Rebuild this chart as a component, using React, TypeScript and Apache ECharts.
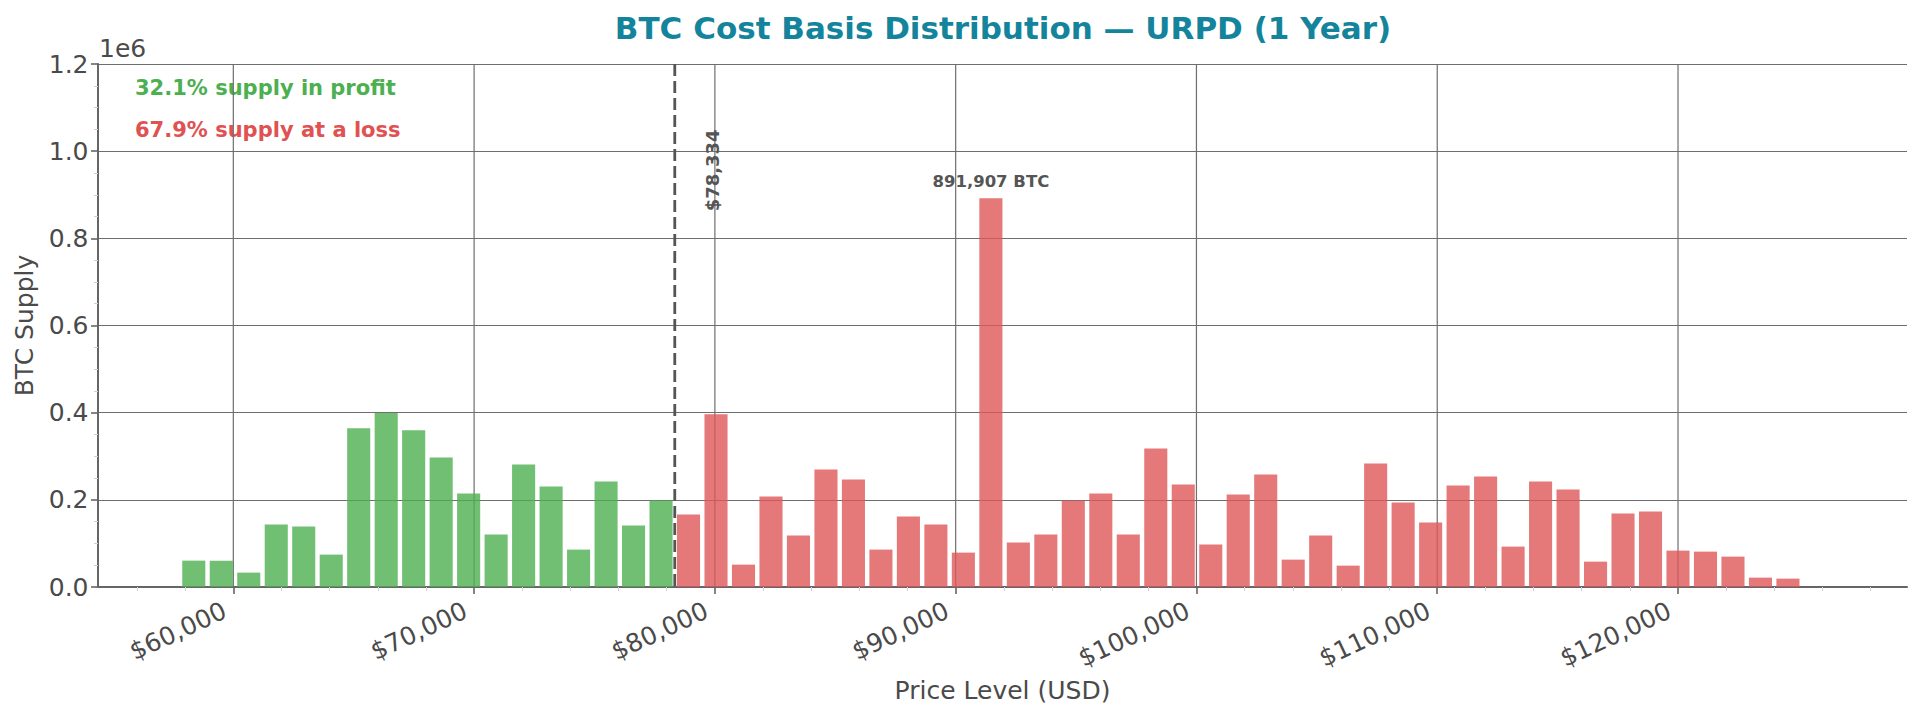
import React, { useEffect, useRef } from 'react';
import * as echarts from 'echarts';

// bin centres (USD) and supply per bin (BTC)
const priceLevels = [
  58358, 59500, 60641, 61783, 62924, 64066, 65207, 66349, 67490, 68632,
  69773, 70915, 72056, 73198, 74339, 75481, 76622, 77764, 78905, 80047,
  81188, 82330, 83471, 84613, 85754, 86896, 88037, 89179, 90320, 91462,
  92603, 93745, 94886, 96028, 97169, 98311, 99452, 100594, 101735, 102877,
  104018, 105160, 106301, 107443, 108584, 109726, 110867, 112009, 113150, 114292,
  115433, 116575, 117716, 118858, 119999, 121141, 122282, 123424, 124565,
];
const supply = [
  60500, 60500, 33000, 143300, 138700, 74300, 364000, 399000, 359400, 297300,
  214600, 120300, 281200, 230700, 85800, 242100, 141000, 198500, 166300, 396200,
  51300, 207700, 118000, 269700, 246700, 85800, 161700, 143300, 78900, 891907,
  101900, 120300, 198500, 214600, 120300, 318000, 235200, 97300, 212300, 258200,
  62800, 118000, 49000, 283500, 193900, 147900, 233000, 253600, 92700, 242100,
  223800, 58200, 168600, 173200, 83500, 81200, 69700, 21500, 19200,
];
const binWidth = 1141.5;
const currentPrice = 78334;
const majorTicks = [60000, 70000, 80000, 90000, 100000, 110000, 120000];
const minorTicks = [
  56000, 58000, 62000, 64000, 66000, 68000, 72000, 74000, 76000, 78000,
  82000, 84000, 86000, 88000, 92000, 94000, 96000, 98000, 102000, 104000,
  106000, 108000, 112000, 114000, 116000, 118000, 122000, 124000, 126000, 128000,
];
const xMin = 54380;
const xMax = 129510;
const yMax = 1200000;
const titleText = 'BTC Cost Basis Distribution — URPD (1 Year)';
const profitText = '32.1% supply in profit';
const lossText = '67.9% supply at a loss';

const FONT = '"DejaVu Sans", sans-serif';
const GREEN = 'rgba(76, 175, 80, 0.8)';
const RED = 'rgba(222, 88, 88, 0.8)';
const GRID = '#6e6e6e';
const AXIS = '#666';
const MINOR = '#cdd0dc';
const TEXT = '#4a4a4a';

const App: React.FC = () => {
  const chartRef = useRef<HTMLDivElement>(null);

  useEffect(() => {
    if (!chartRef.current) return;
    document.body.style.margin = '0';
    document.body.style.overflow = 'hidden';
    const chart = echarts.init(chartRef.current, null, { renderer: 'svg' });

    const maxIndex = supply.indexOf(Math.max(...supply));
    const barData = priceLevels.map((p, i) => [p, supply[i]]);

    const option = {
      animation: false,
      grid: { left: 98, right: 16, top: 64, bottom: 132, containLabel: false },
      xAxis: [
        {
          type: 'value',
          min: xMin,
          max: xMax,
          name: 'Price Level (USD)',
          nameLocation: 'middle',
          nameGap: 91,
          nameTextStyle: { fontSize: 25, color: TEXT, fontFamily: FONT },
          axisLine: { show: true, onZero: false, lineStyle: { color: AXIS, width: 2 } },
          axisTick: { show: true, customValues: majorTicks, length: 7, lineStyle: { color: AXIS, width: 1.6 } },
          axisLabel: {
            customValues: majorTicks,
            rotate: 25,
            align: 'right',
            verticalAlign: 'bottom',
            padding: [0, 3.5, 0, 0],
            margin: 32,
            fontSize: 25,
            color: TEXT,
            fontFamily: FONT,
            formatter: (v: number) => '$' + v.toLocaleString('en-US'),
          },
          splitLine: { show: false },
        },
        {
          type: 'value',
          min: xMin,
          max: xMax,
          position: 'bottom',
          axisLine: { show: false },
          axisTick: { show: true, customValues: minorTicks, length: 4, lineStyle: { color: MINOR, width: 1 } },
          axisLabel: { show: false },
          splitLine: { show: false },
        },
      ],
      yAxis: {
        type: 'value',
        min: 0,
        max: yMax,
        interval: 200000,
        name: 'BTC Supply',
        nameLocation: 'middle',
        nameGap: 61,
        nameTextStyle: { fontSize: 25, color: TEXT, fontFamily: FONT },
        axisLine: { show: true, onZero: false, lineStyle: { color: AXIS, width: 2 } },
        axisTick: { show: true, length: 7, lineStyle: { color: AXIS, width: 1.6 } },
        minorTick: { show: true, splitNumber: 4, length: 4, lineStyle: { color: MINOR, width: 1 } },
        axisLabel: {
          margin: 9.5,
          fontSize: 25,
          color: TEXT,
          fontFamily: FONT,
          formatter: (v: number) => (v / 1e6).toFixed(1),
        },
        splitLine: { show: true, lineStyle: { color: GRID, width: 1.2 } },
      },
      series: [
        {
          // vertical grid lines at the major ticks
          type: 'custom',
          z: 1,
          silent: true,
          data: majorTicks.map((v) => [v, 0]),
          encode: { x: 0, y: 1 },
          renderItem: (_params: any, api: any) => {
            const v = api.value(0);
            const top = api.coord([v, yMax]);
            const bottom = api.coord([v, 0]);
            return {
              type: 'line',
              shape: { x1: top[0], y1: top[1], x2: bottom[0], y2: bottom[1] },
              style: { stroke: GRID, lineWidth: 1.2 },
            };
          },
        },
        {
          name: 'Supply',
          type: 'custom',
          z: 2,
          data: barData,
          encode: { x: 0, y: 1 },
          renderItem: (params: any, api: any) => {
            const price = api.value(0);
            const value = api.value(1);
            const p0 = api.coord([price - binWidth * 0.42, value]);
            const p1 = api.coord([price + binWidth * 0.42, 0]);
            const rect = {
              type: 'rect',
              shape: { x: p0[0], y: p0[1], width: p1[0] - p0[0], height: p1[1] - p0[1] },
              style: { fill: price < currentPrice ? GREEN : RED },
            };
            if (params.dataIndex !== maxIndex) return rect;
            const c = api.coord([price, value]);
            return {
              type: 'group',
              children: [
                rect,
                {
                  type: 'text',
                  x: c[0],
                  y: c[1] - 17,
                  style: {
                    text: value.toLocaleString('en-US') + ' BTC',
                    font: `bold 16.5px ${FONT}`,
                    fill: '#555',
                    align: 'center',
                    textAlign: 'center',
                    verticalAlign: 'middle',
                    textVerticalAlign: 'middle',
                  },
                },
              ],
            };
          },
        },
        {
          // current price marker
          type: 'custom',
          z: 3,
          silent: true,
          data: [[currentPrice, 0]],
          encode: { x: 0, y: 1 },
          renderItem: (_params: any, api: any) => {
            const p = api.value(0);
            const top = api.coord([p, yMax]);
            const bottom = api.coord([p, 0]);
            const lbl = api.coord([p * 1.02, 1050000]);
            return {
              type: 'group',
              children: [
                {
                  type: 'line',
                  shape: { x1: top[0], y1: top[1], x2: bottom[0], y2: bottom[1] },
                  style: { stroke: '#555', lineWidth: 2.8, lineDash: [12, 5] },
                },
                {
                  type: 'text',
                  x: lbl[0],
                  y: lbl[1],
                  rotation: Math.PI / 2,
                  style: {
                    text: '$' + p.toLocaleString('en-US'),
                    font: `bold 18px ${FONT}`,
                    fill: '#555',
                    align: 'right',
                    textAlign: 'right',
                    verticalAlign: 'middle',
                    textVerticalAlign: 'middle',
                  },
                },
              ],
            };
          },
        },
      ],
      graphic: [
        {
          type: 'text',
          x: 1003,
          y: 28,
          style: {
            text: titleText,
            font: `bold 31px ${FONT}`,
            fill: '#13849b',
            align: 'center',
            textAlign: 'center',
            verticalAlign: 'middle',
            textVerticalAlign: 'middle',
          },
        },
        {
          type: 'text',
          x: 99,
          y: 48,
          style: {
            text: '1e6',
            font: `25px ${FONT}`,
            fill: TEXT,
            align: 'left',
            textAlign: 'left',
            verticalAlign: 'middle',
            textVerticalAlign: 'middle',
          },
        },
        {
          type: 'text',
          x: 135,
          y: 88,
          style: {
            text: profitText,
            font: `bold 21px ${FONT}`,
            fill: '#4caf50',
            align: 'left',
            textAlign: 'left',
            verticalAlign: 'middle',
            textVerticalAlign: 'middle',
          },
        },
        {
          type: 'text',
          x: 135,
          y: 130,
          style: {
            text: lossText,
            font: `bold 21px ${FONT}`,
            fill: '#e05252',
            align: 'left',
            textAlign: 'left',
            verticalAlign: 'middle',
            textVerticalAlign: 'middle',
          },
        },
      ],
    };

    chart.setOption(option as any);

    return () => {
      chart.dispose();
    };
  }, []);

  return <div ref={chartRef} style={{ width: 1923, height: 719 }}></div>;
};

export default App;
